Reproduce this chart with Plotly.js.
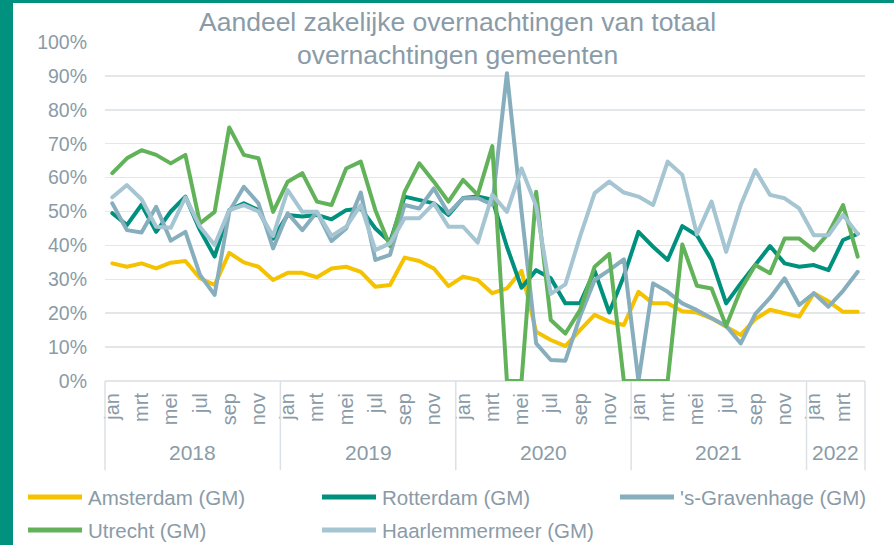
<!DOCTYPE html>
<html>
<head>
<meta charset="utf-8">
<script src="https://cdn.plot.ly/plotly-3.0.1.min.js"></script>
<style>
  html, body { margin: 0; padding: 0; background: #ffffff; }
  #wrap { position: relative; width: 894px; height: 545px; overflow: hidden; }
  #chart { position: absolute; left: 0; top: 0; width: 894px; height: 545px; }
  .bar-left { position: absolute; left: 0; top: 0; width: 13px; height: 545px; background: #00927f; }
  .bar-top { position: absolute; left: 0; top: 0; width: 894px; height: 3px; background: #00927f; }
  .scatterlayer .js-line { stroke-linejoin: round; stroke-linecap: round; }
</style>
</head>
<body>
<div id="wrap">
  <div id="chart"></div>
  <div class="bar-left"></div>
  <div class="bar-top"></div>
</div>
<script>
// ---- data ----
const months = ['jan','feb','mrt','apr','mei','jun','jul','aug','sep','okt','nov','dec'];
const years = ['2018','2019','2020','2021','2022'];
const monthsPerYear = [12, 12, 12, 12, 4];

const seriesNames = ['Amsterdam (GM)', 'Rotterdam (GM)', "'s-Gravenhage (GM)", 'Utrecht (GM)', 'Haarlemmermeer (GM)'];

const amsterdam = [
  34.7, 33.7, 34.7, 33.2, 34.9, 35.4, 30.3, 28.3, 37.8, 35.0, 33.7, 29.8,
  31.9, 31.9, 30.6, 33.2, 33.7, 32.2, 27.8, 28.3, 36.4, 35.4, 33.2, 28.0,
  30.8, 29.8, 25.9, 27.3, 32.5, 14.5, 12.1, 10.3, 15.0, 19.5, 17.5, 16.5,
  26.3, 22.9, 22.9, 20.6, 20.2, 18.5, 16.0, 13.6, 18.3, 21.0, 20.0, 19.0,
  25.9, 23.5, 20.4, 20.4
];
const rotterdam = [
  49.5, 46.0, 52.0, 44.0, 50.0, 54.4, 44.5, 36.7, 50.4, 52.4, 50.4, 42.0,
  49.0, 48.5, 49.0, 47.7, 50.4, 50.9, 45.0, 41.0, 54.4, 53.4, 52.4, 49.0,
  54.0, 54.4, 53.5, 39.6, 27.5, 32.7, 30.3, 22.9, 22.9, 32.5, 20.2, 31.0,
  44.0, 39.6, 35.7, 45.7, 43.0, 35.7, 22.9, 28.8, 34.2, 39.8, 34.7, 33.7,
  34.2, 32.7, 41.6, 43.4
];
const sGravenhage = [
  52.4, 44.5, 43.8, 51.4, 41.4, 44.0, 31.3, 25.4, 49.9, 57.3, 52.4, 39.1,
  49.5, 44.5, 49.9, 41.3, 45.0, 55.6, 35.7, 37.2, 51.9, 50.9, 56.8, 49.5,
  53.9, 54.0, 52.0, 90.8, 50.0, 11.1, 6.2, 6.0, 19.0, 29.8, 32.7, 35.9,
  0.0, 28.8, 26.3, 22.9, 20.9, 18.7, 16.2, 11.1, 19.8, 24.5, 30.3, 22.4,
  25.9, 21.9, 26.6, 32.2
];
const utrecht = [
  61.3, 65.7, 68.1, 66.7, 64.2, 66.7, 46.5, 49.9, 74.8, 66.7, 65.7, 49.9,
  58.8, 61.3, 52.9, 51.9, 62.7, 64.7, 50.4, 39.8, 55.8, 64.2, 58.8, 52.9,
  59.3, 54.9, 69.3, 0.0, 0.0, 55.8, 18.0, 14.0, 20.9, 33.7, 37.5, 0.0,
  0.0, 0.0, 0.0, 40.3, 28.1, 27.3, 16.2, 27.0, 34.2, 31.8, 42.0, 42.0,
  38.6, 43.6, 51.9, 36.7
];
const haarlemmermeer = [
  54.2, 57.8, 53.6, 45.5, 45.2, 54.2, 45.5, 40.1, 50.4, 51.9, 50.0, 42.8,
  56.3, 49.9, 49.9, 42.8, 45.5, 51.9, 38.6, 40.6, 48.0, 48.0, 52.4, 45.5,
  45.5, 40.8, 54.9, 49.9, 62.7, 51.6, 25.7, 28.5, 42.6, 55.4, 58.8, 55.6,
  54.4, 51.9, 64.7, 60.8, 43.3, 52.9, 38.1, 51.9, 62.2, 54.9, 53.9, 50.9,
  43.0, 43.0, 49.0, 43.4
];

// ---- styling ----
const seriesColors = ['#f5c200', '#00917e', '#87aebd', '#62b25a', '#a4c5d1'];
const textColor = '#8a9ba8';
const gridColor = '#e3e7ea';
const fontFamily = 'Liberation Sans, Arial, sans-serif';

// ---- build period axis ----
const periodMonth = [];
const yearStart = [];
let n = 0;
years.forEach((y, yi) => {
  yearStart.push(n);
  for (let m = 0; m < monthsPerYear[yi]; m++) { periodMonth.push(months[m]); n++; }
});
const total = n;
const xIdx = periodMonth.map((_, i) => i);
const tickVals = xIdx.filter(i => ['jan','mrt','mei','jul','sep','nov'].includes(periodMonth[i]));
const tickText = tickVals.map(i => periodMonth[i]);

const allSeries = [amsterdam, rotterdam, sGravenhage, utrecht, haarlemmermeer];
const traces = allSeries.map((vals, k) => ({
  type: 'scatter', mode: 'lines',
  x: xIdx, y: vals, name: seriesNames[k],
  line: { color: seriesColors[k], width: 4 },
  hoverinfo: 'skip'
}));

// year labels and dividers
const annotations = [];
const shapes = [];
years.forEach((y, yi) => {
  const s = yearStart[yi];
  const c = s + (monthsPerYear[yi] - 1) / 2;
  annotations.push({
    x: c, xref: 'x', y: -0.212, yref: 'paper', text: y, showarrow: false,
    xanchor: 'center', yanchor: 'middle',
    font: { family: fontFamily, size: 21, color: textColor }
  });
  shapes.push({ type: 'line', xref: 'paper', yref: 'paper',
    x0: s / total, x1: s / total, y0: 0, y1: -0.263,
    line: { color: '#dce1e5', width: 1.5 } });
});
shapes.push({ type: 'line', xref: 'paper', yref: 'paper',
  x0: 1, x1: 1, y0: 0, y1: -0.263, line: { color: '#dce1e5', width: 1.5 } });

// custom legend (paper coords relative to plot area: l=105, width=760, bottom=381, height=339)
const plotL = 105, plotW = 760, plotB = 381, plotH = 339;
const px2x = p => (p - plotL) / plotW;
const py2y = p => (plotB - p) / plotH;
const legColX = [28, 322, 620];
const legRowY = [497, 530];
const legSample = 54;
seriesNames.forEach((name, k) => {
  const col = k % 3, row = Math.floor(k / 3);
  const x0 = legColX[col], yy = legRowY[row];
  shapes.push({ type: 'line', xref: 'paper', yref: 'paper',
    x0: px2x(x0), x1: px2x(x0 + legSample), y0: py2y(yy), y1: py2y(yy),
    line: { color: seriesColors[k], width: 5 } });
  annotations.push({ x: px2x(x0 + legSample + 4), xref: 'paper', y: py2y(yy), yref: 'paper',
    text: name, showarrow: false, xanchor: 'left', yanchor: 'middle',
    font: { family: fontFamily, size: 20.5, color: textColor } });
});

// title as two centred lines
const titleLines = ['Aandeel zakelijke overnachtingen van totaal', 'overnachtingen gemeenten'];
const titleLineY = [22, 55];
titleLines.forEach((t, i) => {
  annotations.push({ x: px2x(457), xref: 'paper', y: py2y(titleLineY[i]), yref: 'paper',
    text: t, showarrow: false, xanchor: 'center', yanchor: 'middle',
    font: { family: fontFamily, size: 26.5, color: textColor } });
});

const layout = {
  width: 894, height: 545,
  margin: { l: plotL, r: 894 - plotL - plotW, t: 42, b: 545 - plotB, pad: 0 },
  paper_bgcolor: '#ffffff', plot_bgcolor: '#ffffff',
  showlegend: false,
  font: { family: fontFamily, color: textColor },
  xaxis: {
    range: [-0.5, total - 0.5], tickmode: 'array', tickvals: tickVals, ticktext: tickText,
    tickangle: -90, showgrid: false, zeroline: false, showline: false, ticks: '',
    ticklabelstandoff: 7,
    tickfont: { family: fontFamily, size: 20, color: textColor }, fixedrange: true
  },
  yaxis: {
    range: [0, 100], dtick: 10, ticksuffix: '%', showgrid: true, gridcolor: gridColor, gridwidth: 1.5,
    zeroline: true, zerolinecolor: gridColor, zerolinewidth: 1.5, showline: false, ticks: '',
    ticklabelstandoff: 17,
    tickfont: { family: fontFamily, size: 19.5, color: textColor }, fixedrange: true
  },
  annotations: annotations,
  shapes: shapes
};

Plotly.newPlot('chart', traces, layout, { displayModeBar: false, staticPlot: true });
</script>
</body>
</html>
